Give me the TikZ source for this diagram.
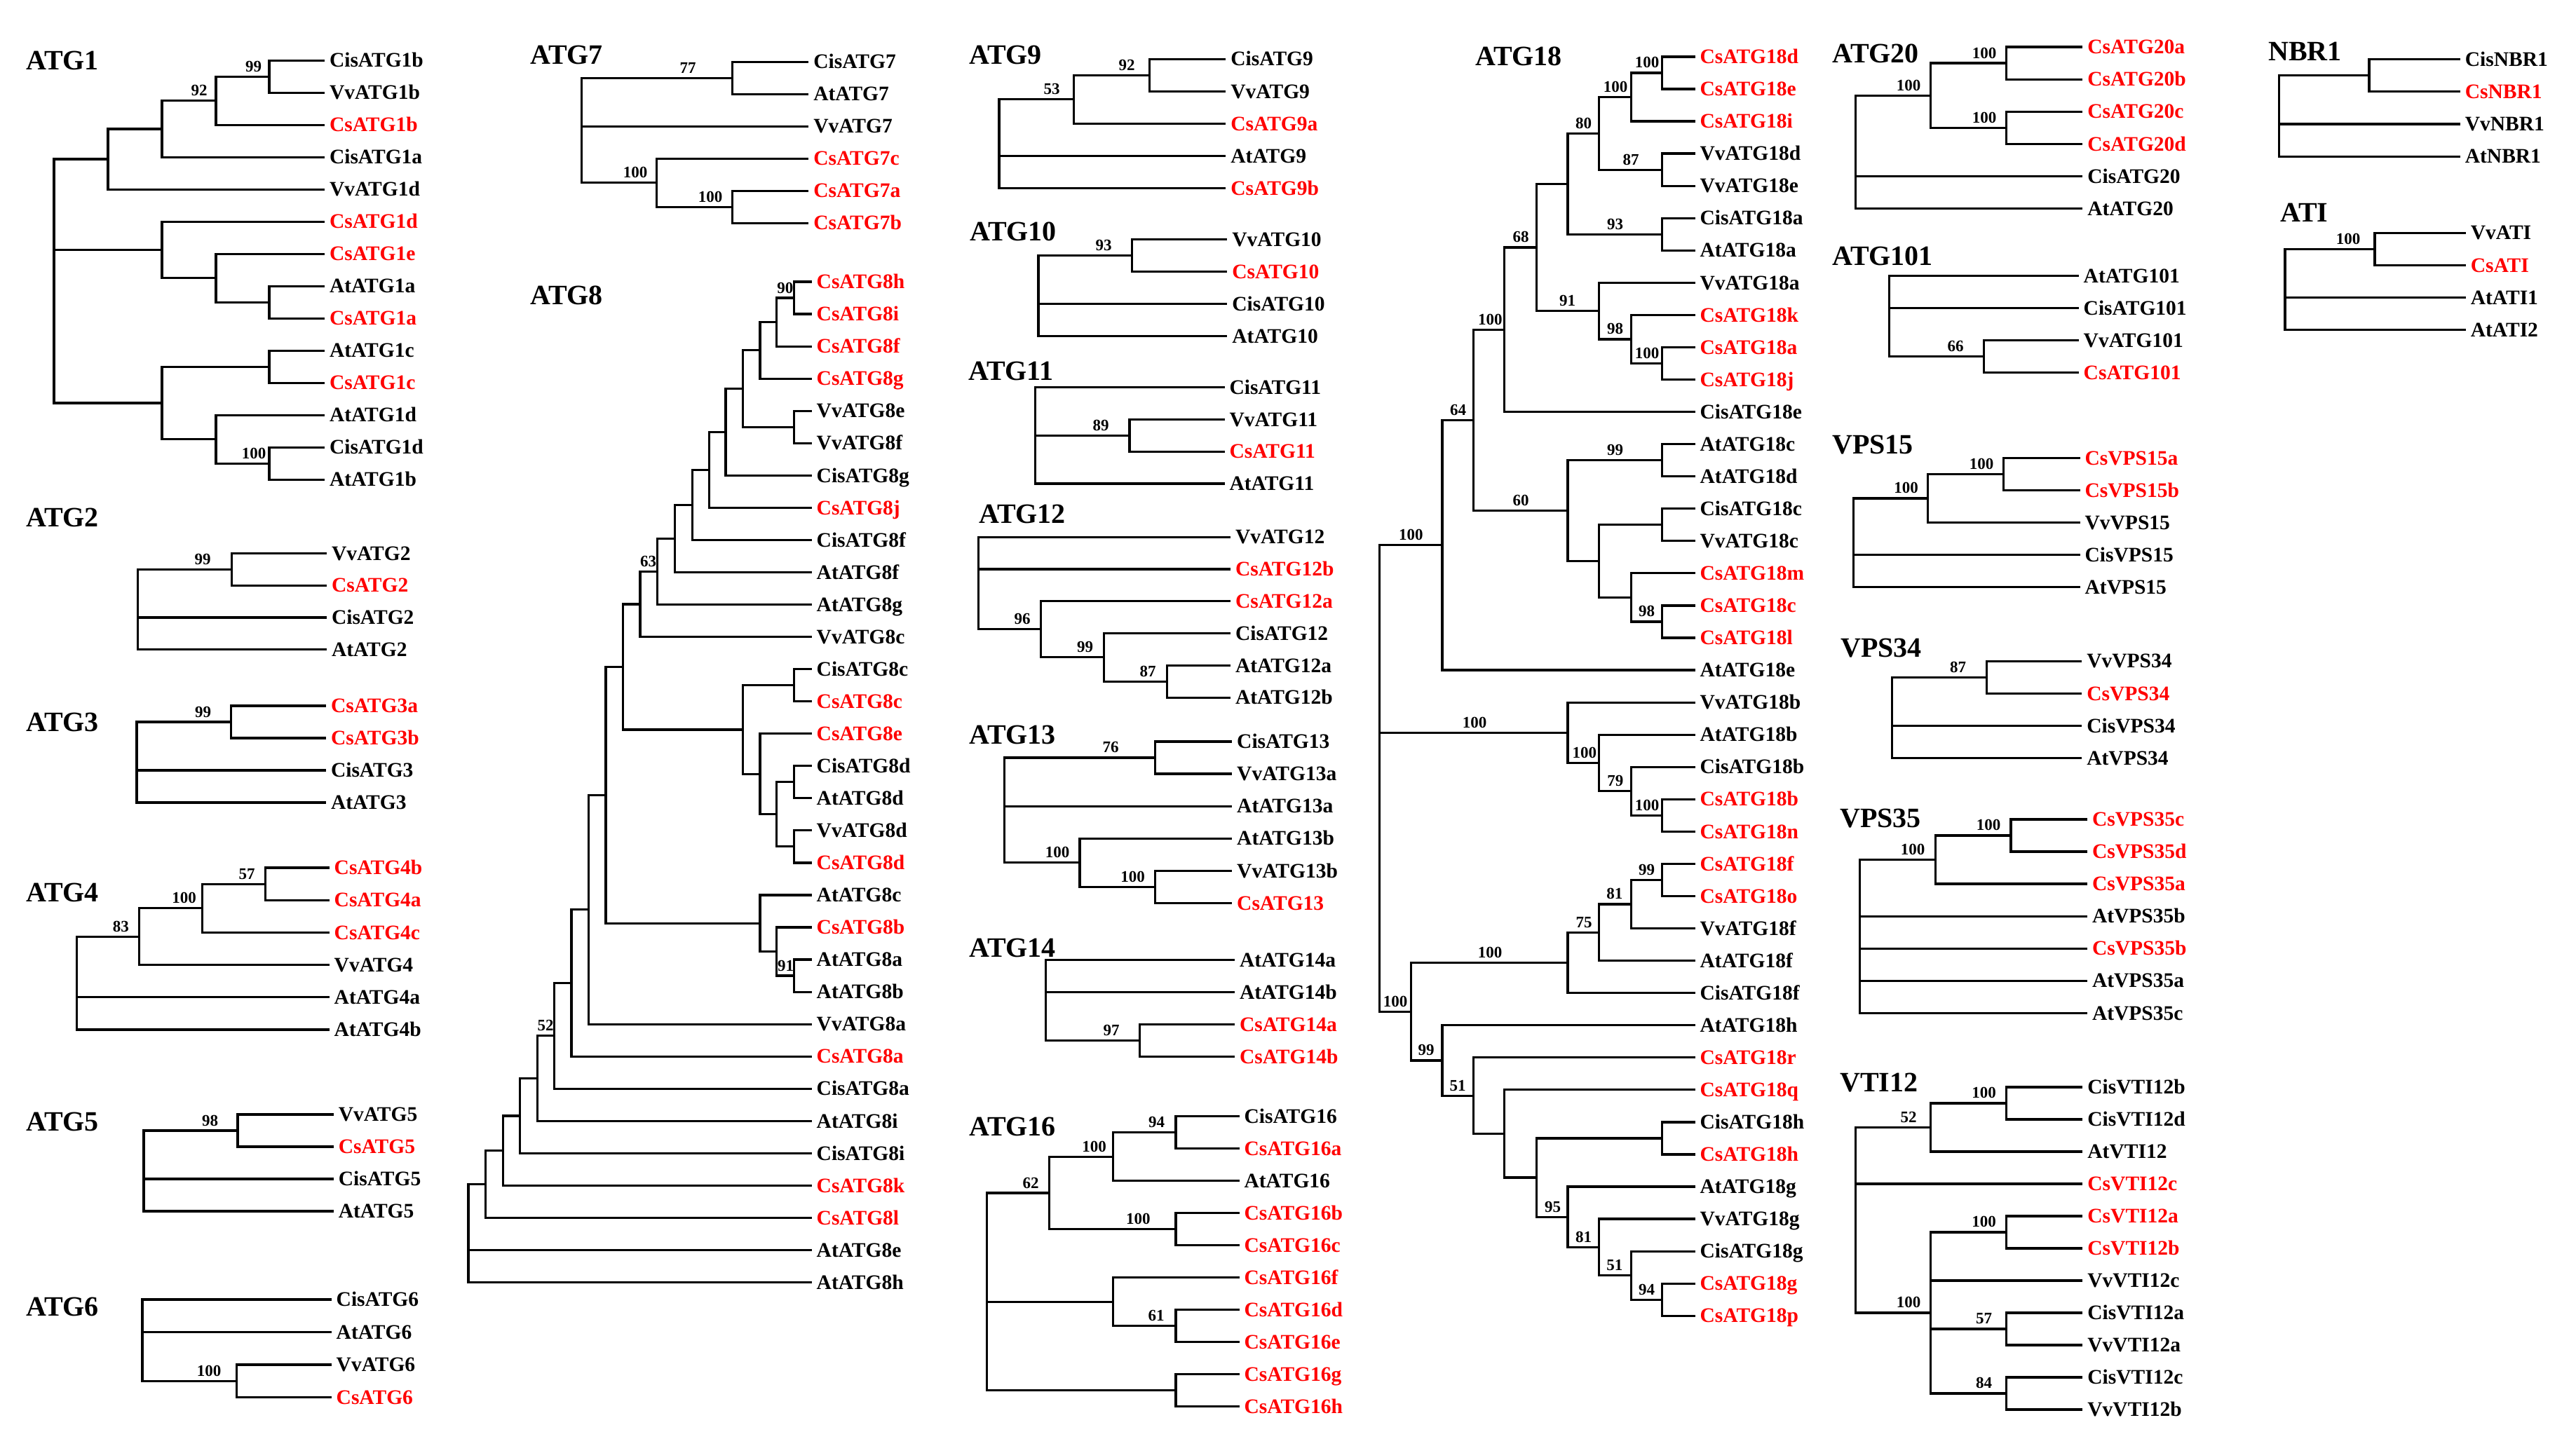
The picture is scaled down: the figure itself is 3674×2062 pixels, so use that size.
\documentclass[tikz,border=0pt]{standalone}
\usepackage{fontspec}
\setmainfont{Liberation Serif}
\newcommand\lf[3][black]{\node[lab,text=#1] (#2) at (\tipx,#3) {#2};}
\newcommand\cn[3]{\coordinate (#1) at (#2,#3);}
\newcommand\eds[2]{\foreach \ch in {#2}{\draw[br] (#1) |- (\ch);}}
\newcommand\bv[4]{\node[bs] (#1) at (#2,#3) {#4};}
\begin{document}
\begin{tikzpicture}[x=1pt,y=-1pt,
  br/.style={line width=3.2pt,line join=miter},
  lab/.style={font=\fontsize{29.5}{30}\selectfont\bfseries,anchor=west,inner xsep=7pt,inner ysep=0pt,outer sep=0pt,text height=19.4pt,text depth=0pt},
  bs/.style={font=\fontsize{23}{24}\selectfont\bfseries,anchor=base,inner sep=0pt,yshift=7pt},
  ttl/.style={font=\fontsize{40}{40}\selectfont\bfseries,anchor=base west,inner sep=0pt}]
\fill[white] (0,0) rectangle (3674,2062);
\useasboundingbox (0,0) rectangle (3674,2062);

% titles
\node[ttl] (tATG1) at (37,99) {ATG1};
\node[ttl] (tATG2) at (37,751) {ATG2};
\node[ttl] (tATG3) at (37,1043) {ATG3};
\node[ttl] (tATG4) at (37,1286) {ATG4};
\node[ttl] (tATG5) at (37,1613) {ATG5};
\node[ttl] (tATG6) at (37,1877) {ATG6};
\node[ttl] (tATG7) at (756,91) {ATG7};
\node[ttl] (tATG8) at (756,434) {ATG8};
\node[ttl] (tATG9) at (1382,91) {ATG9};
\node[ttl] (tATG10) at (1383,343) {ATG10};
\node[ttl] (tATG11) at (1381,542) {ATG11};
\node[ttl] (tATG12) at (1396,746) {ATG12};
\node[ttl] (tATG13) at (1382,1061) {ATG13};
\node[ttl] (tATG14) at (1382,1365) {ATG14};
\node[ttl] (tATG16) at (1382,1620) {ATG16};
\node[ttl] (tATG18) at (2104,93) {ATG18};
\node[ttl] (tATG20) at (2613,89.5) {ATG20};
\node[ttl] (tATG101) at (2613,378) {ATG101};
\node[ttl] (tVPS15) at (2613,647) {VPS15};
\node[ttl] (tVPS34) at (2625,937) {VPS34};
\node[ttl] (tVPS35) at (2624,1180) {VPS35};
\node[ttl] (tVTI12) at (2624,1557) {VTI12};
\node[ttl] (tNBR1) at (3235,86) {NBR1};
\node[ttl] (tATI) at (3252,316) {ATI};

% ATG1
\begin{scope}[shift={(0pt,-86.2pt)},y={(0pt,-46pt)}]
\def\tipx{463}
\lf{CisATG1b}{0}\lf{VvATG1b}{1}\lf[red]{CsATG1b}{2}\lf{CisATG1a}{3}\lf{VvATG1d}{4}\lf[red]{CsATG1d}{5}\lf[red]{CsATG1e}{6}\lf{AtATG1a}{7}\lf[red]{CsATG1a}{8}\lf{AtATG1c}{9}\lf[red]{CsATG1c}{10}\lf{AtATG1d}{11}\lf{CisATG1d}{12}\lf{AtATG1b}{13}
\cn{p1a3}{384}{0.5}\cn{p1a2}{308}{1.25}\cn{p1a1}{231}{2.125}\cn{p1a}{154}{3.0625}
\cn{p1b2}{384}{7.5}\cn{p1b1}{308}{6.75}\cn{p1b}{231}{5.875}
\cn{p1c1}{384}{9.5}\cn{p1c3}{384}{12.5}\cn{p1c2}{308}{11.75}\cn{p1c}{231}{10.625}
\cn{p1r}{77}{6.84375}
\eds{p1a3}{CisATG1b.west,VvATG1b.west}
\eds{p1a2}{p1a3,CsATG1b.west}
\eds{p1a1}{p1a2,CisATG1a.west}
\eds{p1a}{p1a1,VvATG1d.west}
\eds{p1b2}{AtATG1a.west,CsATG1a.west}
\eds{p1b1}{CsATG1e.west,p1b2}
\eds{p1b}{CsATG1d.west,p1b1}
\eds{p1c1}{AtATG1c.west,CsATG1c.west}
\eds{p1c3}{CisATG1d.west,AtATG1b.west}
\eds{p1c2}{AtATG1d.west,p1c3}
\eds{p1c}{p1c1,p1c2}
\eds{p1r}{p1a,p1b,p1c}
\bv{b1a3}{361.5}{0.5}{99}\bv{b1a2}{284}{1.25}{92}\bv{b1c3}{362}{12.5}{100}
\end{scope}

% ATG2
\begin{scope}[shift={(0pt,-789.3pt)},y={(0pt,-45.8pt)}]
\def\tipx{466}
\lf{VvATG2}{0}\lf[red]{CsATG2}{1}\lf{CisATG2}{2}\lf{AtATG2}{3}
\cn{p2n}{330.5}{0.5}\cn{p2r}{196.5}{1.75}
\eds{p2n}{VvATG2.west,CsATG2.west}
\eds{p2r}{p2n,CisATG2.west,AtATG2.west}
\bv{b2n}{289}{0.5}{99}
\end{scope}

% ATG3
\begin{scope}[shift={(0pt,-1007pt)},y={(0pt,-46pt)}]
\def\tipx{465}
\lf[red]{CsATG3a}{0}\lf[red]{CsATG3b}{1}\lf{CisATG3}{2}\lf{AtATG3}{3}
\cn{p3n}{329.6}{0.5}\cn{p3r}{195}{1.75}
\eds{p3n}{CsATG3a.west,CsATG3b.west}
\eds{p3r}{p3n,CisATG3.west,AtATG3.west}
\bv{b3n}{289.5}{0.5}{99}
\end{scope}

% ATG4
\begin{scope}[shift={(0pt,-1238pt)},y={(0pt,-46.2pt)}]
\def\tipx{469.7}
\lf[red]{CsATG4b}{0}\lf[red]{CsATG4a}{1}\lf[red]{CsATG4c}{2}\lf{VvATG4}{3}\lf{AtATG4a}{4}\lf{AtATG4b}{5}
\cn{p4n3}{378.6}{0.5}\cn{p4n2}{288.4}{1.25}\cn{p4n1}{198.6}{2.125}\cn{p4r}{109.7}{3.5625}
\eds{p4n3}{CsATG4b.west,CsATG4a.west}
\eds{p4n2}{p4n3,CsATG4c.west}
\eds{p4n1}{p4n2,VvATG4.west}
\eds{p4r}{p4n1,AtATG4a.west,AtATG4b.west}
\bv{b4n3}{352}{0.5}{57}\bv{b4n2}{262.6}{1.25}{100}\bv{b4n1}{172.4}{2.125}{83}
\end{scope}

% ATG5
\begin{scope}[shift={(0pt,-1590pt)},y={(0pt,-46pt)}]
\def\tipx{475.8}
\lf{VvATG5}{0}\lf[red]{CsATG5}{1}\lf{CisATG5}{2}\lf{AtATG5}{3}
\cn{p5n}{339}{0.5}\cn{p5r}{205}{1.75}
\eds{p5n}{VvATG5.west,CsATG5.west}
\eds{p5r}{p5n,CisATG5.west,AtATG5.west}
\bv{b5n}{299.5}{0.5}{98}
\end{scope}

% ATG6
\begin{scope}[shift={(0pt,-1854pt)},y={(0pt,-46.5pt)}]
\def\tipx{472.7}
\lf{CisATG6}{0}\lf{AtATG6}{1}\lf{VvATG6}{2}\lf[red]{CsATG6}{3}
\cn{p6n}{337.4}{2.5}\cn{p6r}{203}{1.25}
\eds{p6n}{VvATG6.west,CsATG6.west}
\eds{p6r}{CisATG6.west,AtATG6.west,p6n}
\bv{b6n}{298}{2.5}{100}
\end{scope}

% ATG7
\begin{scope}[shift={(0pt,-88.2pt)},y={(0pt,-46pt)}]
\def\tipx{1153.3}
\lf{CisATG7}{0}\lf{AtATG7}{1}\lf{VvATG7}{2}\lf[red]{CsATG7c}{3}\lf[red]{CsATG7a}{4}\lf[red]{CsATG7b}{5}
\cn{p7n1}{1044.8}{0.5}\cn{p7n3}{1044.8}{4.5}\cn{p7n2}{936.8}{3.75}\cn{p7r}{829.6}{2.125}
\eds{p7n1}{CisATG7.west,AtATG7.west}
\eds{p7n3}{CsATG7a.west,CsATG7b.west}
\eds{p7n2}{CsATG7c.west,p7n3}
\eds{p7r}{p7n1,VvATG7.west,p7n2}
\bv{b7n1}{981}{0.5}{77}\bv{b7n3}{1013}{4.5}{100}\bv{b7n2}{906}{3.75}{100}
\end{scope}

% ATG8
\begin{scope}[shift={(0pt,-402pt)},y={(0pt,-46.05pt)}]
\def\tipx{1157.7}
\lf[red]{CsATG8h}{0}\lf[red]{CsATG8i}{1}\lf[red]{CsATG8f}{2}\lf[red]{CsATG8g}{3}\lf{VvATG8e}{4}\lf{VvATG8f}{5}\lf{CisATG8g}{6}\lf[red]{CsATG8j}{7}\lf{CisATG8f}{8}\lf{AtATG8f}{9}\lf{AtATG8g}{10}\lf{VvATG8c}{11}\lf{CisATG8c}{12}\lf[red]{CsATG8c}{13}\lf[red]{CsATG8e}{14}\lf{CisATG8d}{15}\lf{AtATG8d}{16}\lf{VvATG8d}{17}\lf[red]{CsATG8d}{18}\lf{AtATG8c}{19}\lf[red]{CsATG8b}{20}\lf{AtATG8a}{21}\lf{AtATG8b}{22}\lf{VvATG8a}{23}\lf[red]{CsATG8a}{24}\lf{CisATG8a}{25}\lf{AtATG8i}{26}\lf{CisATG8i}{27}\lf[red]{CsATG8k}{28}\lf[red]{CsATG8l}{29}\lf{AtATG8e}{30}\lf{AtATG8h}{31}
\cn{p8a}{1132.3}{0.5}\cn{p8b}{1107.7}{1.25}\cn{p8c}{1084}{2.125}\cn{p8d}{1132.3}{4.5}
\cn{p8e}{1059.5}{3.3125}\cn{p8f}{1035}{4.65625}\cn{p8g}{1011.3}{5.828125}\cn{p8h}{987.2}{6.9140625}
\cn{p8i}{962.2}{7.95703}\cn{p8j}{937.7}{8.97852}\cn{p8k}{913}{9.98926}
\cn{p8n}{1132.3}{12.5}\cn{p8q}{1132.3}{15.5}\cn{p8r}{1132.3}{17.5}\cn{p8p}{1107.7}{16.5}\cn{p8o}{1084}{15.25}\cn{p8m}{1059.5}{13.875}
\cn{p8l}{888.6}{11.93213}
\cn{p8v}{1132.3}{21.5}\cn{p8u}{1107.7}{20.75}\cn{p8t}{1084}{19.875}
\cn{p8s}{864}{15.90356}\cn{p8w}{839.5}{19.45178}\cn{p8x}{814.9}{21.72589}\cn{p8y}{790.4}{23.36295}
\cn{p8z}{766.2}{24.68147}\cn{p8aa}{741.7}{25.84074}\cn{p8bb}{717.1}{26.92037}\cn{p8cc}{692.6}{27.96018}\cn{p8r0}{668}{29.48009}
\eds{p8a}{CsATG8h.west,CsATG8i.west}
\eds{p8b}{p8a,CsATG8f.west}
\eds{p8c}{p8b,CsATG8g.west}
\eds{p8d}{VvATG8e.west,VvATG8f.west}
\eds{p8e}{p8c,p8d}
\eds{p8f}{p8e,CisATG8g.west}
\eds{p8g}{p8f,CsATG8j.west}
\eds{p8h}{p8g,CisATG8f.west}
\eds{p8i}{p8h,AtATG8f.west}
\eds{p8j}{p8i,AtATG8g.west}
\eds{p8k}{p8j,VvATG8c.west}
\eds{p8n}{CisATG8c.west,CsATG8c.west}
\eds{p8q}{CisATG8d.west,AtATG8d.west}
\eds{p8r}{VvATG8d.west,CsATG8d.west}
\eds{p8p}{p8q,p8r}
\eds{p8o}{CsATG8e.west,p8p}
\eds{p8m}{p8n,p8o}
\eds{p8l}{p8k,p8m}
\eds{p8v}{AtATG8a.west,AtATG8b.west}
\eds{p8u}{CsATG8b.west,p8v}
\eds{p8t}{AtATG8c.west,p8u}
\eds{p8s}{p8l,p8t}
\eds{p8w}{p8s,VvATG8a.west}
\eds{p8x}{p8w,CsATG8a.west}
\eds{p8y}{p8x,CisATG8a.west}
\eds{p8z}{p8y,AtATG8i.west}
\eds{p8aa}{p8z,CisATG8i.west}
\eds{p8bb}{p8aa,CsATG8k.west}
\eds{p8cc}{p8bb,CsATG8l.west}
\eds{p8r0}{p8cc,AtATG8e.west,AtATG8h.west}
\bv{b8a}{1119.8}{0.5}{90}\bv{b8j}{924.7}{8.97852}{63}\bv{b8v}{1120.5}{21.5}{91}\bv{b8y}{778}{23.36295}{52}
\end{scope}

% ATG9
\begin{scope}[shift={(0pt,-84.2pt)},y={(0pt,-46.1pt)}]
\def\tipx{1748.4}
\lf{CisATG9}{0}\lf{VvATG9}{1}\lf[red]{CsATG9a}{2}\lf{AtATG9}{3}\lf[red]{CsATG9b}{4}
\cn{p9n2}{1639.4}{0.5}\cn{p9n1}{1531.4}{1.25}\cn{p9r}{1425}{2.625}
\eds{p9n2}{CisATG9.west,VvATG9.west}
\eds{p9n1}{p9n2,CsATG9a.west}
\eds{p9r}{p9n1,AtATG9.west,CsATG9b.west}
\bv{b9n2}{1607}{0.5}{92}\bv{b9n1}{1500}{1.25}{53}
\end{scope}

% ATG10
\begin{scope}[shift={(0pt,-341.6pt)},y={(0pt,-46pt)}]
\def\tipx{1750.4}
\lf{VvATG10}{0}\lf[red]{CsATG10}{1}\lf{CisATG10}{2}\lf{AtATG10}{3}
\cn{p10n}{1614.5}{0.5}\cn{p10r}{1481}{1.75}
\eds{p10n}{VvATG10.west,CsATG10.west}
\eds{p10r}{p10n,CisATG10.west,AtATG10.west}
\bv{b10n}{1574}{0.5}{93}
\end{scope}

% ATG11
\begin{scope}[shift={(0pt,-552.5pt)},y={(0pt,-45.8pt)}]
\def\tipx{1746.5}
\lf{CisATG11}{0}\lf{VvATG11}{1}\lf[red]{CsATG11}{2}\lf{AtATG11}{3}
\cn{p11n}{1611}{1.5}\cn{p11r}{1476.7}{1.5}
\eds{p11n}{VvATG11.west,CsATG11.west}
\eds{p11r}{CisATG11.west,p11n,AtATG11.west}
\bv{b11n}{1570}{1.5}{89}
\end{scope}

% ATG12
\begin{scope}[shift={(0pt,-766.1pt)},y={(0pt,-45.8pt)}]
\def\tipx{1755}
\lf{VvATG12}{0}\lf[red]{CsATG12b}{1}\lf[red]{CsATG12a}{2}\lf{CisATG12}{3}\lf{AtATG12a}{4}\lf{AtATG12b}{5}
\cn{p12n3}{1664.2}{4.5}\cn{p12n2}{1574.3}{3.75}\cn{p12n1}{1484.4}{2.875}\cn{p12r}{1395.6}{1.4375}
\eds{p12n3}{AtATG12a.west,AtATG12b.west}
\eds{p12n2}{CisATG12.west,p12n3}
\eds{p12n1}{CsATG12a.west,p12n2}
\eds{p12r}{VvATG12.west,CsATG12b.west,p12n1}
\bv{b12n3}{1637}{4.5}{87}\bv{b12n2}{1547.5}{3.75}{99}\bv{b12n1}{1458}{2.875}{96}
\end{scope}

% ATG13
\begin{scope}[shift={(0pt,-1057.9pt)},y={(0pt,-46.1pt)}]
\def\tipx{1757.2}
\lf{CisATG13}{0}\lf{VvATG13a}{1}\lf{AtATG13a}{2}\lf{AtATG13b}{3}\lf{VvATG13b}{4}\lf[red]{CsATG13}{5}
\cn{p13n1}{1647.8}{0.5}\cn{p13n3}{1647.8}{4.5}\cn{p13n2}{1539.9}{3.75}\cn{p13r}{1432.7}{2.125}
\eds{p13n1}{CisATG13.west,VvATG13a.west}
\eds{p13n3}{VvATG13b.west,CsATG13.west}
\eds{p13n2}{AtATG13b.west,p13n3}
\eds{p13r}{p13n1,AtATG13a.west,p13n2}
\bv{b13n1}{1584}{0.5}{76}\bv{b13n3}{1615.6}{4.5}{100}\bv{b13n2}{1508}{3.75}{100}
\end{scope}

% ATG14
\begin{scope}[shift={(0pt,-1369.5pt)},y={(0pt,-46pt)}]
\def\tipx{1761}
\lf{AtATG14a}{0}\lf{AtATG14b}{1}\lf[red]{CsATG14a}{2}\lf[red]{CsATG14b}{3}
\cn{p14n}{1625.2}{2.5}\cn{p14r}{1491.3}{1.25}
\eds{p14n}{CsATG14a.west,CsATG14b.west}
\eds{p14r}{AtATG14a.west,AtATG14b.west,p14n}
\bv{b14n}{1585}{2.5}{97}
\end{scope}

% ATG16
\begin{scope}[shift={(0pt,-1592.8pt)},y={(0pt,-46pt)}]
\def\tipx{1767.6}
\lf{CisATG16}{0}\lf[red]{CsATG16a}{1}\lf{AtATG16}{2}\lf[red]{CsATG16b}{3}\lf[red]{CsATG16c}{4}\lf[red]{CsATG16f}{5}\lf[red]{CsATG16d}{6}\lf[red]{CsATG16e}{7}\lf[red]{CsATG16g}{8}\lf[red]{CsATG16h}{9}
\cn{p16n3}{1676.9}{0.5}\cn{p16n2}{1587.7}{1.25}\cn{p16n4}{1676.9}{3.5}\cn{p16n1}{1496.6}{2.375}
\cn{p16n6}{1676.9}{6.5}\cn{p16n5}{1587.7}{5.75}\cn{p16n7}{1676.9}{8.5}\cn{p16r}{1407.8}{5.4375}
\eds{p16n3}{CisATG16.west,CsATG16a.west}
\eds{p16n2}{p16n3,AtATG16.west}
\eds{p16n4}{CsATG16b.west,CsATG16c.west}
\eds{p16n1}{p16n2,p16n4}
\eds{p16n6}{CsATG16d.west,CsATG16e.west}
\eds{p16n5}{CsATG16f.west,p16n6}
\eds{p16n7}{CsATG16g.west,CsATG16h.west}
\eds{p16r}{p16n1,p16n5,p16n7}
\bv{b16n3}{1649.6}{0.5}{94}\bv{b16n2}{1560.5}{1.25}{100}\bv{b16n4}{1623.4}{3.5}{100}\bv{b16n1}{1470}{2.375}{62}\bv{b16n6}{1649}{6.5}{61}
\end{scope}

% ATG18
\begin{scope}[shift={(0pt,-80.9pt)},y={(0pt,-46.06pt)}]
\def\tipx{2417.6}
\lf[red]{CsATG18d}{0}\lf[red]{CsATG18e}{1}\lf[red]{CsATG18i}{2}\lf{VvATG18d}{3}\lf{VvATG18e}{4}\lf{CisATG18a}{5}\lf{AtATG18a}{6}\lf{VvATG18a}{7}\lf[red]{CsATG18k}{8}\lf[red]{CsATG18a}{9}\lf[red]{CsATG18j}{10}\lf{CisATG18e}{11}\lf{AtATG18c}{12}\lf{AtATG18d}{13}\lf{CisATG18c}{14}\lf{VvATG18c}{15}\lf[red]{CsATG18m}{16}\lf[red]{CsATG18c}{17}\lf[red]{CsATG18l}{18}\lf{AtATG18e}{19}
\lf{VvATG18b}{20}\lf{AtATG18b}{21}\lf{CisATG18b}{22}\lf[red]{CsATG18b}{23}\lf[red]{CsATG18n}{24}\lf[red]{CsATG18f}{25}\lf[red]{CsATG18o}{26}\lf{VvATG18f}{27}\lf{AtATG18f}{28}\lf{CisATG18f}{29}\lf{AtATG18h}{30}\lf[red]{CsATG18r}{31}\lf[red]{CsATG18q}{32}\lf{CisATG18h}{33}\lf[red]{CsATG18h}{34}\lf{AtATG18g}{35}\lf{VvATG18g}{36}\lf{CisATG18g}{37}\lf[red]{CsATG18g}{38}\lf[red]{CsATG18p}{39}
\cn{hA1}{2370.7}{0.5}\cn{hA2}{2326.4}{1.25}\cn{hB1}{2370.7}{3.5}\cn{hA3}{2280.8}{2.375}\cn{hC1}{2370.7}{5.5}\cn{hA4}{2236}{3.9375}
\cn{hD1}{2370.7}{9.5}\cn{hD2}{2326.4}{8.75}\cn{hD3}{2280.8}{7.875}\cn{hA5}{2191.2}{5.90625}\cn{hA6}{2145.6}{8.453125}
\cn{hE1}{2370.7}{12.5}\cn{hE2}{2370.7}{14.5}\cn{hE3}{2370.7}{17.5}\cn{hE4}{2326.4}{16.75}\cn{hE5}{2280.8}{15.625}\cn{hE6}{2236}{14.0625}
\cn{hA7}{2101.7}{11.2578}\cn{hA8}{2057}{15.1289}
\cn{hF1}{2370.7}{23.5}\cn{hF2}{2326.4}{22.75}\cn{hF3}{2280.8}{21.875}\cn{hF4}{2236}{20.9375}
\cn{hG1}{2370.7}{25.5}\cn{hG2}{2326.4}{26.25}\cn{hG3}{2280.8}{27.125}\cn{hG4}{2236}{28.0625}
\cn{hH1}{2370.7}{38.5}\cn{hH2}{2326.4}{37.75}\cn{hH3}{2280.8}{36.875}\cn{hH4}{2236}{35.9375}\cn{hH5}{2370.7}{33.5}
\cn{hH6}{2191.2}{34.71875}\cn{hH7}{2145.6}{33.359375}\cn{hH8}{2101.7}{32.1796875}\cn{hH9}{2057}{31.08984}
\cn{hI1}{2012.2}{29.57617}\cn{hR}{1967.4}{22.35254}
\eds{hA1}{CsATG18d.west,CsATG18e.west}
\eds{hA2}{hA1,CsATG18i.west}
\eds{hB1}{VvATG18d.west,VvATG18e.west}
\eds{hA3}{hA2,hB1}
\eds{hC1}{CisATG18a.west,AtATG18a.west}
\eds{hA4}{hA3,hC1}
\eds{hD1}{CsATG18a.west,CsATG18j.west}
\eds{hD2}{CsATG18k.west,hD1}
\eds{hD3}{VvATG18a.west,hD2}
\eds{hA5}{hA4,hD3}
\eds{hA6}{hA5,CisATG18e.west}
\eds{hE1}{AtATG18c.west,AtATG18d.west}
\eds{hE2}{CisATG18c.west,VvATG18c.west}
\eds{hE3}{CsATG18c.west,CsATG18l.west}
\eds{hE4}{CsATG18m.west,hE3}
\eds{hE5}{hE2,hE4}
\eds{hE6}{hE1,hE5}
\eds{hA7}{hA6,hE6}
\eds{hA8}{hA7,AtATG18e.west}
\eds{hF1}{CsATG18b.west,CsATG18n.west}
\eds{hF2}{CisATG18b.west,hF1}
\eds{hF3}{AtATG18b.west,hF2}
\eds{hF4}{VvATG18b.west,hF3}
\eds{hG1}{CsATG18f.west,CsATG18o.west}
\eds{hG2}{hG1,VvATG18f.west}
\eds{hG3}{hG2,AtATG18f.west}
\eds{hG4}{hG3,CisATG18f.west}
\eds{hH1}{CsATG18g.west,CsATG18p.west}
\eds{hH2}{CisATG18g.west,hH1}
\eds{hH3}{VvATG18g.west,hH2}
\eds{hH4}{AtATG18g.west,hH3}
\eds{hH5}{CisATG18h.west,CsATG18h.west}
\eds{hH6}{hH5,hH4}
\eds{hH7}{CsATG18q.west,hH6}
\eds{hH8}{CsATG18r.west,hH7}
\eds{hH9}{AtATG18h.west,hH8}
\eds{hI1}{hG4,hH9}
\eds{hR}{hA8,hF4,hI1}
\bv{bhA1}{2349}{0.5}{100}\bv{bhA2}{2304}{1.25}{100}\bv{bhA3}{2258.6}{2.375}{80}\bv{bhB1}{2326}{3.5}{87}\bv{bhC1}{2303.5}{5.5}{93}
\bv{bhA5}{2169}{5.90625}{68}\bv{bhD3}{2235.7}{7.875}{91}\bv{bhD2}{2303.5}{8.75}{98}\bv{bhD1}{2349}{9.5}{100}\bv{bhA6}{2125.4}{8.453125}{100}
\bv{bhE1}{2303.5}{12.5}{99}\bv{bhE6}{2169}{14.0625}{60}\bv{bhE3}{2348.5}{17.5}{98}\bv{bhA7}{2079.6}{11.2578}{64}\bv{bhA8}{2012.4}{15.1289}{100}
\bv{bhF4}{2103}{20.9375}{100}\bv{bhF3}{2259.8}{21.875}{100}\bv{bhF2}{2303.8}{22.75}{79}\bv{bhF1}{2349}{23.5}{100}
\bv{bhG1}{2348.5}{25.5}{99}\bv{bhG2}{2302.8}{26.25}{81}\bv{bhG3}{2259}{27.125}{75}\bv{bhG4}{2125}{28.0625}{100}
\bv{bhI1}{1990}{29.57617}{100}\bv{bhH9}{2034}{31.08984}{99}\bv{bhH8}{2079}{32.1796875}{51}
\bv{bhH4}{2214.6}{35.9375}{95}\bv{bhH3}{2258.6}{36.875}{81}\bv{bhH2}{2302.8}{37.75}{51}\bv{bhH1}{2348.5}{38.5}{94}
\end{scope}

% ATG20
\begin{scope}[shift={(0pt,-67pt)},y={(0pt,-46.1pt)}]
\def\tipx{2970.4}
\lf[red]{CsATG20a}{0}\lf[red]{CsATG20b}{1}\lf[red]{CsATG20c}{2}\lf[red]{CsATG20d}{3}\lf{CisATG20}{4}\lf{AtATG20}{5}
\cn{p20n2}{2861.4}{0.5}\cn{p20n3}{2861.4}{2.5}\cn{p20n1}{2753.8}{1.5}\cn{p20r}{2646.7}{3.25}
\eds{p20n2}{CsATG20a.west,CsATG20b.west}
\eds{p20n3}{CsATG20c.west,CsATG20d.west}
\eds{p20n1}{p20n2,p20n3}
\eds{p20r}{p20n1,CisATG20.west,AtATG20.west}
\bv{b20n2}{2830}{0.5}{100}\bv{b20n3}{2830}{2.5}{100}\bv{b20n1}{2722}{1.5}{100}
\end{scope}

% ATG101
\begin{scope}[shift={(0pt,-393.3pt)},y={(0pt,-46pt)}]
\def\tipx{2964.7}
\lf{AtATG101}{0}\lf{CisATG101}{1}\lf{VvATG101}{2}\lf[red]{CsATG101}{3}
\cn{p101n}{2829.6}{2.5}\cn{p101r}{2694.5}{1.25}
\eds{p101n}{VvATG101.west,CsATG101.west}
\eds{p101r}{AtATG101.west,CisATG101.west,p101n}
\bv{b101n}{2789}{2.5}{66}
\end{scope}

% VPS15
\begin{scope}[shift={(0pt,-653.4pt)},y={(0pt,-46pt)}]
\def\tipx{2966.6}
\lf[red]{CsVPS15a}{0}\lf[red]{CsVPS15b}{1}\lf{VvVPS15}{2}\lf{CisVPS15}{3}\lf{AtVPS15}{4}
\cn{v15n2}{2857.6}{0.5}\cn{v15n1}{2749.3}{1.25}\cn{v15r}{2643.2}{2.625}
\eds{v15n2}{CsVPS15a.west,CsVPS15b.west}
\eds{v15n1}{v15n2,VvVPS15.west}
\eds{v15r}{v15n1,CisVPS15.west,AtVPS15.west}
\bv{bv15n2}{2826}{0.5}{100}\bv{bv15n1}{2718.6}{1.25}{100}
\end{scope}

% VPS34
\begin{scope}[shift={(0pt,-943.2pt)},y={(0pt,-46.2pt)}]
\def\tipx{2969.3}
\lf{VvVPS34}{0}\lf[red]{CsVPS34}{1}\lf{CisVPS34}{2}\lf{AtVPS34}{3}
\cn{v34n}{2833.4}{0.5}\cn{v34r}{2698.7}{1.75}
\eds{v34n}{VvVPS34.west,CsVPS34.west}
\eds{v34r}{v34n,CisVPS34.west,AtVPS34.west}
\bv{bv34n}{2792.6}{0.5}{87}
\end{scope}

% VPS35
\begin{scope}[shift={(0pt,-1168.9pt)},y={(0pt,-46.07pt)}]
\def\tipx{2977}
\lf[red]{CsVPS35c}{0}\lf[red]{CsVPS35d}{1}\lf[red]{CsVPS35a}{2}\lf{AtVPS35b}{3}\lf[red]{CsVPS35b}{4}\lf{AtVPS35a}{5}\lf{AtVPS35c}{6}
\cn{v35n2}{2867.9}{0.5}\cn{v35n1}{2760.7}{1.25}\cn{v35r}{2652.4}{3.625}
\eds{v35n2}{CsVPS35c.west,CsVPS35d.west}
\eds{v35n1}{v35n2,CsVPS35a.west}
\eds{v35r}{v35n1,AtVPS35b.west,CsVPS35b.west,AtVPS35a.west,AtVPS35c.west}
\bv{bv35n2}{2836}{0.5}{100}\bv{bv35n1}{2728}{1.25}{100}
\end{scope}

% VTI12
\begin{scope}[shift={(0pt,-1550.9pt)},y={(0pt,-46pt)}]
\def\tipx{2970.4}
\lf{CisVTI12b}{0}\lf{CisVTI12d}{1}\lf{AtVTI12}{2}\lf[red]{CsVTI12c}{3}\lf[red]{CsVTI12a}{4}\lf[red]{CsVTI12b}{5}\lf{VvVTI12c}{6}\lf{CisVTI12a}{7}\lf{VvVTI12a}{8}\lf{CisVTI12c}{9}\lf{VvVTI12b}{10}
\cn{vtn2}{2861.4}{0.5}\cn{vtn1}{2753.8}{1.25}\cn{vtn4}{2861.4}{4.5}\cn{vtn5}{2861.4}{7.5}\cn{vtn6}{2861.4}{9.5}\cn{vtn3}{2753.8}{7}\cn{vtr}{2646.7}{4.125}
\eds{vtn2}{CisVTI12b.west,CisVTI12d.west}
\eds{vtn1}{vtn2,AtVTI12.west}
\eds{vtn4}{CsVTI12a.west,CsVTI12b.west}
\eds{vtn5}{CisVTI12a.west,VvVTI12a.west}
\eds{vtn6}{CisVTI12c.west,VvVTI12b.west}
\eds{vtn3}{vtn4,VvVTI12c.west,vtn5,vtn6}
\eds{vtr}{vtn1,CsVTI12c.west,vtn3}
\bv{bvtn2}{2829.6}{0.5}{100}\bv{bvtn1}{2722}{1.25}{52}\bv{bvtn4}{2829.6}{4.5}{100}\bv{bvtn3}{2722}{7}{100}\bv{bvtn5}{2829.6}{7.5}{57}\bv{bvtn6}{2829.6}{9.5}{84}
\end{scope}

% NBR1
\begin{scope}[shift={(0pt,-84.6pt)},y={(0pt,-46.2pt)}]
\def\tipx{3508.8}
\lf{CisNBR1}{0}\lf[red]{CsNBR1}{1}\lf{VvNBR1}{2}\lf{AtNBR1}{3}
\cn{nbn}{3379}{0.5}\cn{nbr}{3250.5}{1.75}
\eds{nbn}{CisNBR1.west,CsNBR1.west}
\eds{nbr}{nbn,VvNBR1.west,AtNBR1.west}
\end{scope}

% ATI
\begin{scope}[shift={(0pt,-332.1pt)},y={(0pt,-46.2pt)}]
\def\tipx{3516.8}
\lf{VvATI}{0}\lf[red]{CsATI}{1}\lf{AtATI1}{2}\lf{AtATI2}{3}
\cn{atn}{3387}{0.5}\cn{atr}{3259}{1.75}
\eds{atn}{VvATI.west,CsATI.west}
\eds{atr}{atn,AtATI1.west,AtATI2.west}
\bv{batn}{3349}{0.5}{100}
\end{scope}
\end{tikzpicture}
\end{document}
